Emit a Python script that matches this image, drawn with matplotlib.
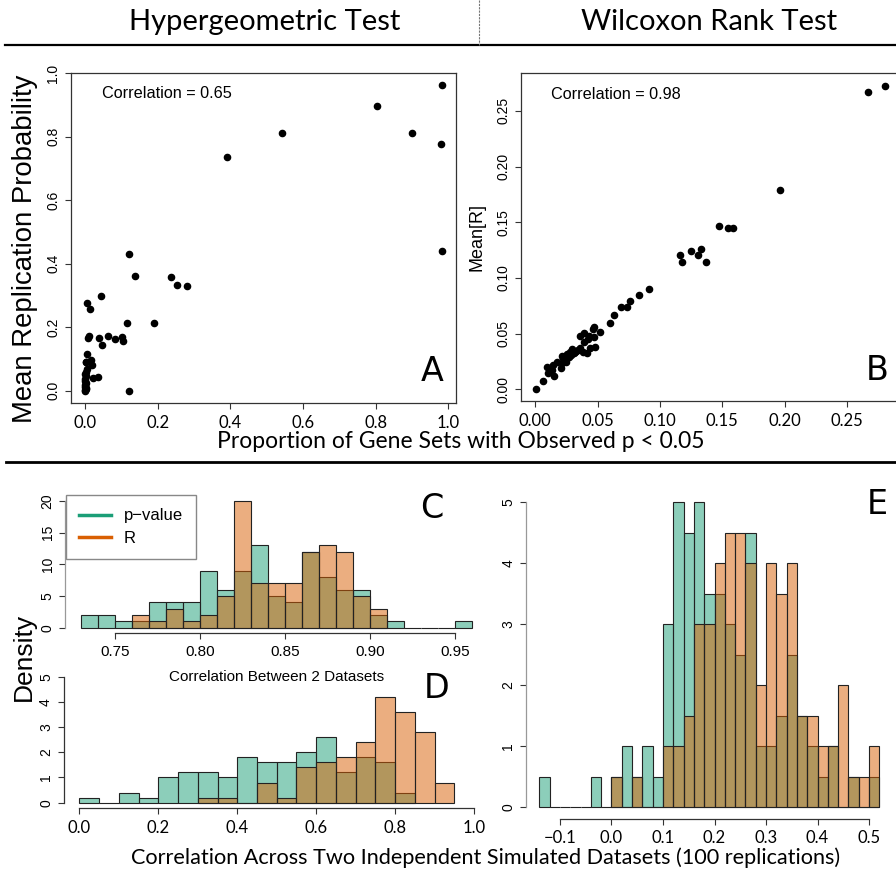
import numpy as np
import matplotlib.pyplot as plt
from matplotlib.lines import Line2D
from matplotlib.colors import to_rgba

# ---- data -------------------------------------------------------------
A_x = [0.983, 0.805, 0.542, 0.900, 0.981, 0.390, 0.983, 0.120, 0.137, 0.238,
       0.253, 0.281, 0.043, 0.005, 0.013, 0.117, 0.191, 0.008, 0.010, 0.038,
       0.062, 0.083, 0.103, 0.106, 0.046, 0.006, 0.003, 0.016, 0.018, 0.023,
       0.035, 0.121, 0.003, 0.006, 0.002, 0.000, 0.003, 0.001, 0.000, 0.002,
       0.001, 0.000, 0.003, 0.000, 0.001, 0.002]
A_y = [0.964, 0.898, 0.813, 0.812, 0.778, 0.736, 0.439, 0.432, 0.360, 0.358,
       0.332, 0.329, 0.298, 0.278, 0.259, 0.212, 0.215, 0.166, 0.172, 0.166,
       0.171, 0.162, 0.170, 0.158, 0.144, 0.115, 0.091, 0.097, 0.082, 0.041,
       0.043, 0.000, 0.089, 0.067, 0.060, 0.052, 0.045, 0.038, 0.030, 0.024,
       0.018, 0.012, 0.006, 0.002, 0.000, 0.009]

B_x = [0.2805, 0.2666, 0.1967, 0.1478, 0.1547, 0.1590, 0.1159, 0.1178, 0.1247,
       0.1309, 0.1328, 0.1368, 0.0910, 0.0830, 0.0760, 0.0739, 0.0690, 0.0629,
       0.0600, 0.0519, 0.0471, 0.0466, 0.0390, 0.0359, 0.0434, 0.0474, 0.0423,
       0.0388, 0.0479, 0.0439, 0.0412, 0.0385, 0.0359, 0.0345, 0.0319, 0.0297,
       0.0278, 0.0257, 0.0238, 0.0211, 0.0225, 0.0257, 0.0246, 0.0211, 0.0206,
       0.0171, 0.0145, 0.0091, 0.0131, 0.0104, 0.0150, 0.0059, 0.0003, 0.0290,
       0.0310, 0.0270, 0.0330]
B_y = [0.2727, 0.2667, 0.1785, 0.1465, 0.1447, 0.1447, 0.1208, 0.1145, 0.1241,
       0.1202, 0.1259, 0.1145, 0.0897, 0.0849, 0.0789, 0.0739, 0.0739, 0.0667,
       0.0598, 0.0517, 0.0562, 0.0538, 0.0508, 0.0481, 0.0481, 0.0466, 0.0449,
       0.0422, 0.0383, 0.0374, 0.0329, 0.0332, 0.0368, 0.0353, 0.0338, 0.0359,
       0.0338, 0.0317, 0.0299, 0.0302, 0.0278, 0.0278, 0.0248, 0.0233, 0.0188,
       0.0248, 0.0218, 0.0197, 0.0173, 0.0150, 0.0123, 0.0075, 0.0006, 0.0310,
       0.0330, 0.0290, 0.0345]

# panel C: correlation between 2 datasets (density, bin width 0.01)
C_pval_start, C_R_start, C_width = 0.73, 0.76, 0.01
C_pval = [2, 2, 1, 1, 4, 4, 4, 9, 6, 9, 13, 5, 4, 12, 8, 6, 6, 2, 1, 0, 0, 0, 1]
C_R = [2, 1, 3, 1, 2, 5, 20, 7, 7, 7, 12, 13, 12, 5, 3]

# panel D (bin width 0.05)
D_pval_start, D_R_start, D_width = 0.00, 0.30, 0.05
D_pval = [0.2, 0, 0.4, 0.2, 1.0, 1.2, 1.2, 1.0, 1.8, 1.6, 1.6, 2.0, 2.6, 1.2,
          1.8, 1.6, 0.4]
D_R = [0.2, 0.2, 0, 0.8, 0.2, 1.4, 1.6, 1.8, 2.4, 4.2, 3.6, 2.8, 0.8]

# panel E (bin width 0.02)
E_pval_start, E_R_start, E_width = -0.14, 0.00, 0.02
E_pval = [0.5, 0, 0, 0, 0, 0.5, 0, 0.5, 1.0, 0.5, 1.0, 0.5, 3.0, 5.0, 4.5, 5.0,
          3.5, 3.5, 3.0, 2.5, 4.5, 1.0, 1.0, 1.5, 2.5, 1.5, 1.0, 0.5, 1.0, 0,
          0.5, 0, 0.5]
E_R = [0.5, 0, 0.5, 0, 0, 1.0, 1.0, 1.5, 3.0, 3.0, 4.0, 4.5, 4.5, 4.0, 2.0,
       4.0, 3.5, 4.0, 1.5, 1.5, 1.0, 1.0, 2.0, 0.5, 0.5, 1.0]

TEAL, ORANGE = "#1b9e77", "#d95f02"

NARROW = ["Lato", "DejaVu Sans"]
plt.rcParams["font.family"] = ["Liberation Sans", "DejaVu Sans"]

W, H = 896, 875
fig = plt.figure(figsize=(W / 100, H / 100), dpi=100)


def box(l, t, r, b):
    return [l / W, 1 - b / H, (r - l) / W, (b - t) / H]


def ftext(x, y, s, **kw):
    fig.text(x / W, 1 - y / H, s, ha="center", va="center", **kw)


def style(ax, narrow_x=False):
    for sp in ax.spines.values():
        sp.set_color("#333333")
        sp.set_linewidth(0.9)
    ax.tick_params(direction="out", length=4.5, width=0.8, color="#333333",
                   labelsize=10, pad=3)
    for lab in ax.get_yticklabels():
        lab.set_rotation(90)
        lab.set_va("center")
    if narrow_x:
        for lab in ax.get_xticklabels():
            lab.set_fontfamily(NARROW)
            lab.set_fontsize(12)
    ax.patch.set_visible(False)


def hist(ax, start, width, heights, color):
    edges = start + width * np.arange(len(heights))
    ax.bar(edges, heights, width=width, align="edge",
           facecolor=to_rgba(color, 0.5), edgecolor="#222222", linewidth=0.8)


# ---- panel A -------------------------------------------------------------
axA = fig.add_axes(box(70.7, 72.5, 456.3, 403))
axA.scatter(A_x, A_y, s=20, color="black", zorder=3)
axA.set_xlim(-0.0393, 1.022)
axA.set_ylim(-0.0386, 1.0026)
axA.set_xticks([0, 0.2, 0.4, 0.6, 0.8, 1.0])
axA.set_yticks([0, 0.2, 0.4, 0.6, 0.8, 1.0])
axA.set_xticklabels(["0.0", "0.2", "0.4", "0.6", "0.8", "1.0"])
axA.set_yticklabels(["0.0", "0.2", "0.4", "0.6", "0.8", "1.0"])
style(axA, True)
axA.patch.set_visible(True)
axA.tick_params(axis="x", pad=4)
axA.text(0.08, 0.935, "Correlation = 0.65", transform=axA.transAxes,
         fontsize=11.7, va="center")
axA.text(0.938, 0.095, "A", transform=axA.transAxes, fontsize=24,
         ha="center", va="center", fontfamily="DejaVu Sans")

# ---- panel B -------------------------------------------------------------
axB = fig.add_axes(box(521.3, 73.4, 898.8, 401.4))
axB.scatter(B_x, B_y, s=20, color="black", zorder=3)
axB.set_xlim(-0.0112, 0.2917)
axB.set_ylim(-0.0109, 0.2836)
bt = [0, 0.05, 0.10, 0.15, 0.20, 0.25]
axB.set_xticks(bt)
axB.set_yticks(bt)
axB.set_xticklabels(["%.2f" % v for v in bt])
axB.set_yticklabels(["%.2f" % v for v in bt])
style(axB, True)
axB.patch.set_visible(True)
axB.tick_params(axis="x", pad=4)
axB.text(0.078, 0.935, "Correlation = 0.98", transform=axB.transAxes,
         fontsize=11.7, va="center")
axB.text(0.942, 0.095, "B", transform=axB.transAxes, fontsize=24,
         ha="center", va="center", fontfamily="DejaVu Sans")
ftext(477, 237, "Mean[R]", fontsize=13, rotation=90)

# ---- panel C -------------------------------------------------------------
axC = fig.add_axes(box(65, 495.8, 487.5, 632.8))
hist(axC, C_pval_start, C_width, C_pval, TEAL)
hist(axC, C_R_start, C_width, C_R, ORANGE)
axC.set_xlim(0.7208, 0.9692)
axC.set_ylim(-0.8, 20.8)
axC.set_xticks([0.75, 0.80, 0.85, 0.90, 0.95])
axC.set_xticklabels(["0.75", "0.80", "0.85", "0.90", "0.95"])
axC.set_yticks([0, 5, 10, 15, 20])
style(axC)
axC.tick_params(axis="x", labelsize=11, pad=4)
axC.spines[["top", "right"]].set_visible(False)
axC.spines["left"].set_bounds(0, 20)
axC.spines["left"].set_color("#999999")
axC.spines["bottom"].set_bounds(0.75, 0.95)
ftext(277, 677, "Correlation Between 2 Datasets", fontsize=11)
ftext(432, 508, "C", fontsize=24, fontfamily="DejaVu Sans")
handles = [Line2D([], [], color=TEAL, lw=2.5), Line2D([], [], color=ORANGE, lw=2.5)]
leg = fig.legend(handles, ["p\u2212value", "R"], loc="upper left",
                 bbox_to_anchor=(66 / W, 1 - 495 / H), borderaxespad=0,
                 fontsize=12, handlelength=1.9, handletextpad=0.75,
                 labelspacing=0.45, borderpad=0.8, fancybox=False,
                 edgecolor="#888888", framealpha=1)
leg.get_frame().set_linewidth(1.0)

# ---- panel D -------------------------------------------------------------
axD = fig.add_axes(box(63.5, 671.7, 490, 807.7))
hist(axD, D_pval_start, D_width, D_pval, TEAL)
hist(axD, D_R_start, D_width, D_R, ORANGE)
axD.set_xlim(-0.04, 1.04)
axD.set_ylim(-0.2, 5.2)
axD.set_xticks([0, 0.2, 0.4, 0.6, 0.8, 1.0])
axD.set_xticklabels(["0.0", "0.2", "0.4", "0.6", "0.8", "1.0"])
axD.set_yticks([0, 1, 2, 3, 4, 5])
style(axD, True)
axD.tick_params(axis="x", pad=4)
axD.spines[["top", "right"]].set_visible(False)
axD.spines["left"].set_bounds(0, 5)
axD.spines["bottom"].set_bounds(0, 1)
ftext(437, 688, "D", fontsize=24, fontfamily="DejaVu Sans")

# ---- panel E -------------------------------------------------------------
axE = fig.add_axes(box(525.8, 490.2, 892.9, 819.2))
hist(axE, E_pval_start, E_width, E_pval, TEAL)
hist(axE, E_R_start, E_width, E_R, ORANGE)
axE.set_xlim(-0.1664, 0.5464)
axE.set_ylim(-0.2, 5.2)
et = [-0.1, 0.0, 0.1, 0.2, 0.3, 0.4, 0.5]
axE.set_xticks(et)
axE.set_xticklabels(["\u22120.1", "0.0", "0.1", "0.2", "0.3", "0.4", "0.5"])
axE.set_yticks([0, 1, 2, 3, 4, 5])
style(axE, True)
axE.spines[["top", "right"]].set_visible(False)
axE.spines["left"].set_bounds(0, 5)
axE.spines["left"].set_color("#999999")
axE.spines["bottom"].set_bounds(-0.1, 0.5)
ftext(877, 505, "E", fontsize=24, fontfamily="DejaVu Sans")

# ---- figure-level decorations -------------------------------------------
ftext(265, 22, "Hypergeometric Test", fontsize=21, fontfamily=NARROW)
ftext(709, 22, "Wilcoxon Rank Test", fontsize=21, fontfamily=NARROW)
fig.add_artist(Line2D([5 / W, 1], [1 - 45 / H] * 2, color="black", lw=1.6))
fig.add_artist(Line2D([479 / W] * 2, [1, 1 - 45 / H], color="#777777",
                      lw=0.8, ls=(0, (2, 1))))
fig.add_artist(Line2D([6 / W, 1], [1 - 462 / H] * 2, color="black", lw=2.0))
ftext(25, 249, "Mean Replication Probability", fontsize=19.8, rotation=90)
ftext(461, 441, "Proportion of Gene Sets with Observed p < 0.05",
      fontsize=16.5, fontfamily=NARROW)
ftext(24, 657, "Density", fontsize=19, rotation=90)
ftext(486, 858, "Correlation Across Two Independent Simulated Datasets (100 replications)",
      fontsize=15.6, fontfamily=NARROW)

fig.savefig("out.png", dpi=100)
